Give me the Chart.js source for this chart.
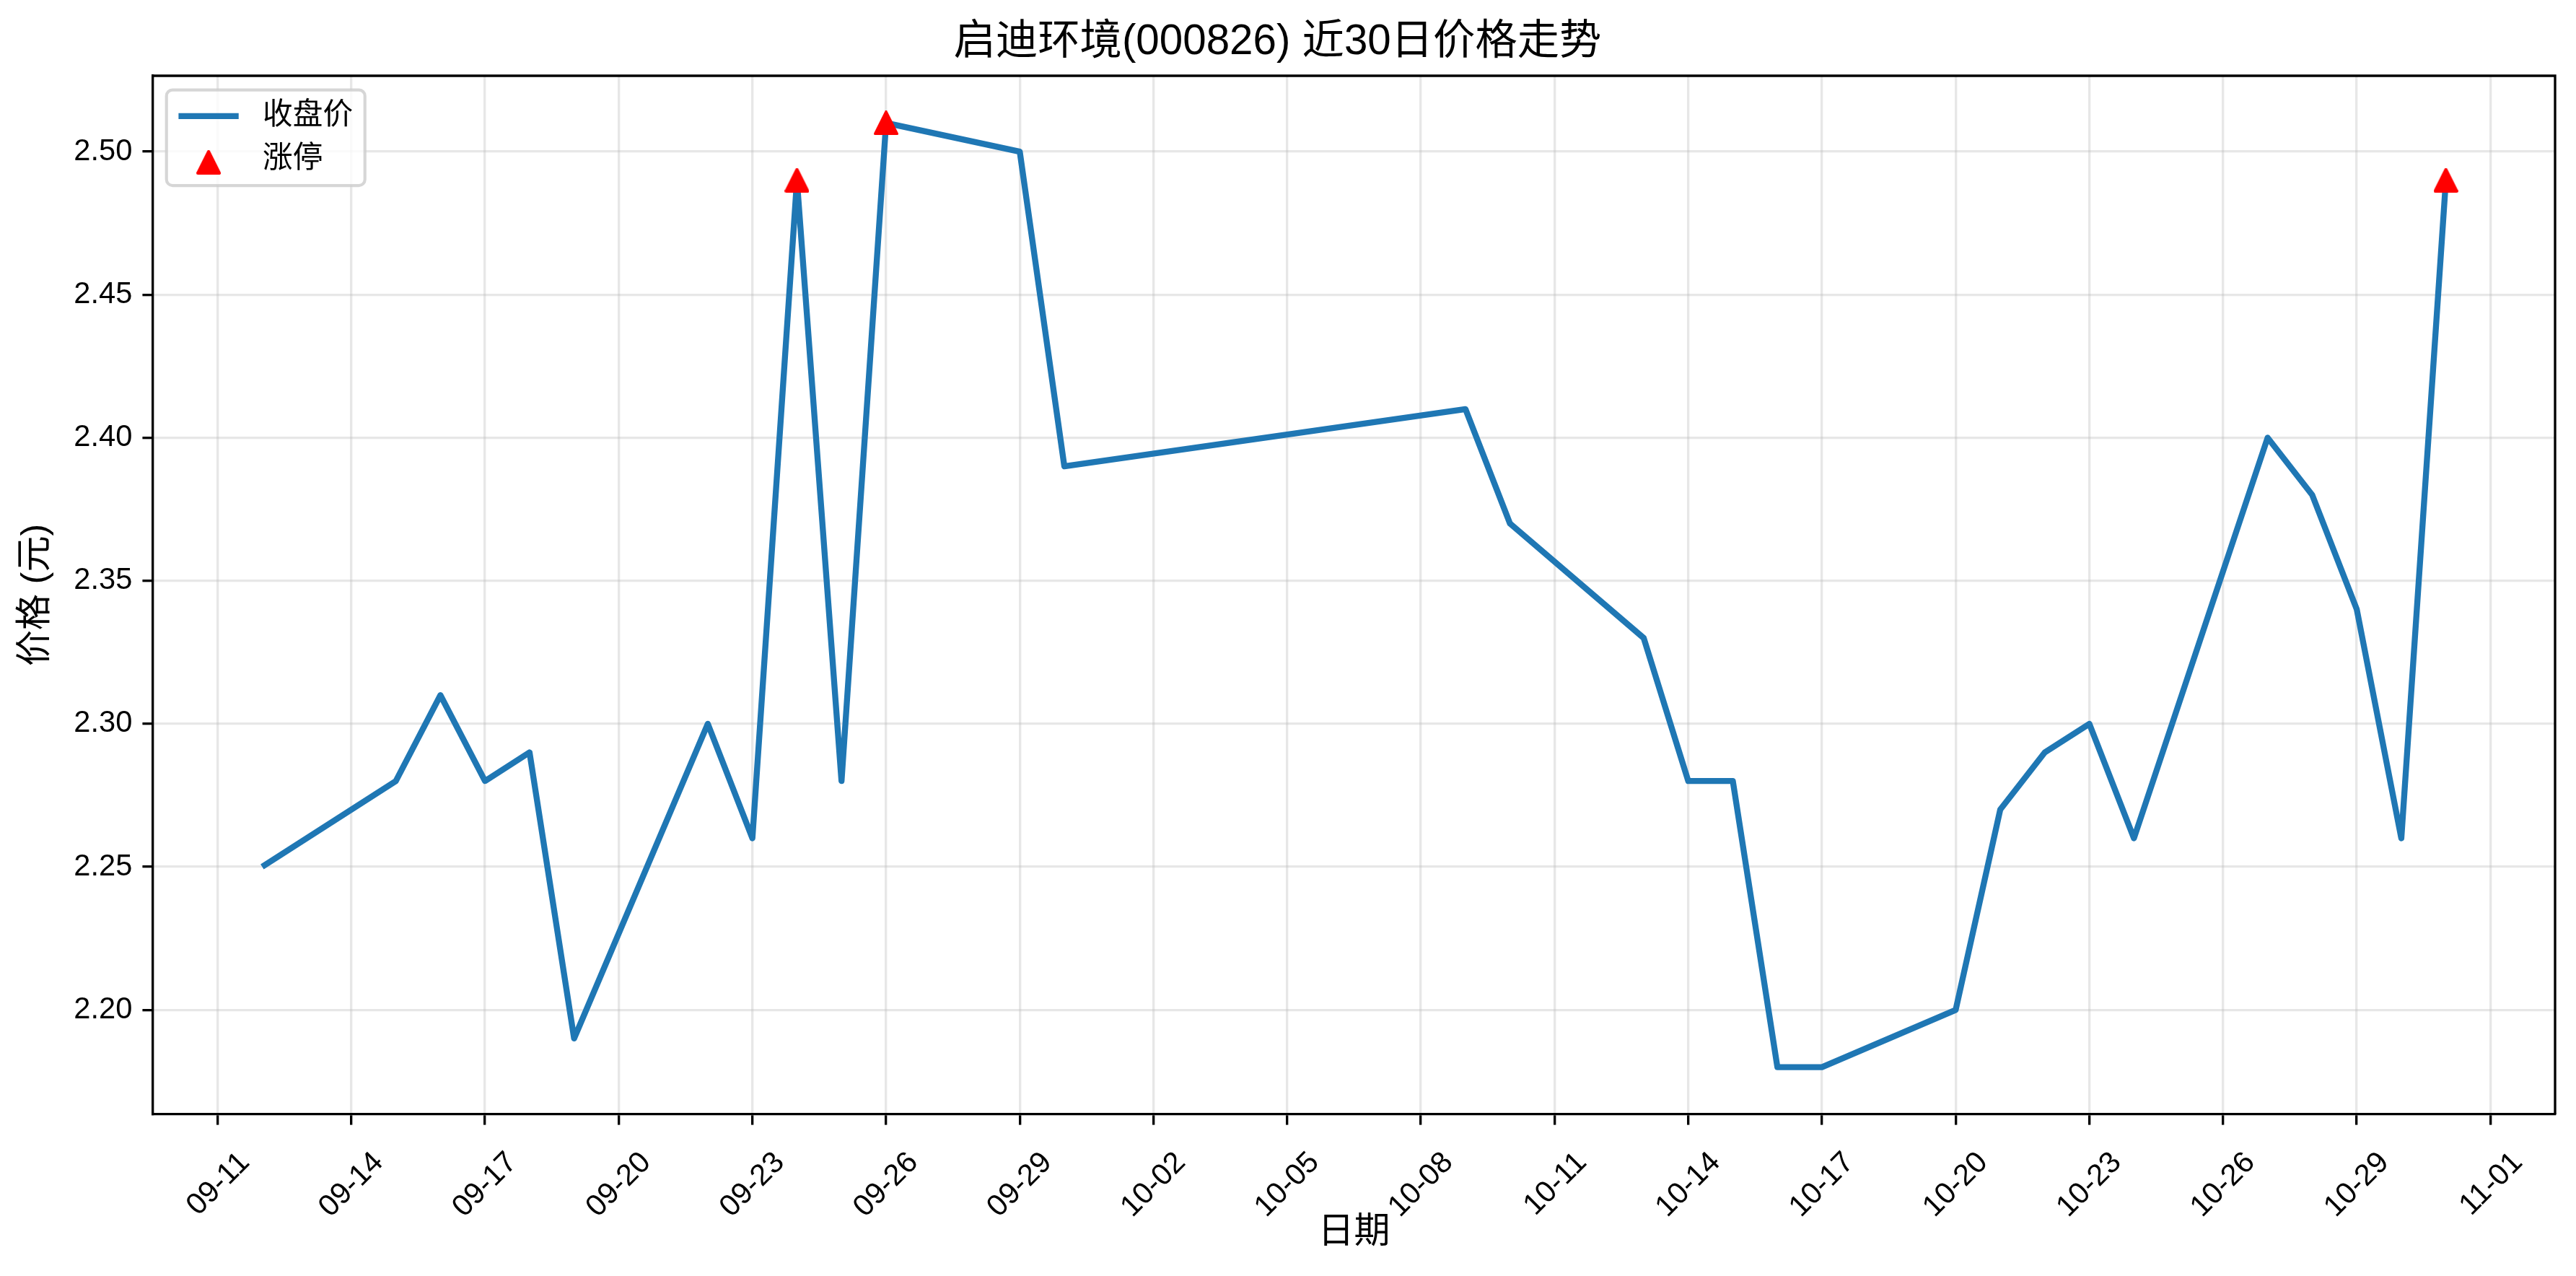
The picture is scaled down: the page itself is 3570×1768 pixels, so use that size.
<!DOCTYPE html>
<html>
<head>
<meta charset="utf-8">
<script src="https://cdn.jsdelivr.net/npm/chart.js@4.4.0/dist/chart.umd.min.js"></script>
<style>
  html, body { margin: 0; padding: 0; background: #fff; }
</style>
</head>
<body>
<canvas id="priceChart" width="3570" height="1768"></canvas>
<script>
// data
const dates = [
  "2025-09-12", "2025-09-15", "2025-09-16", "2025-09-17", "2025-09-18",
  "2025-09-19", "2025-09-22", "2025-09-23", "2025-09-24", "2025-09-25",
  "2025-09-26", "2025-09-29", "2025-09-30", "2025-10-09", "2025-10-10",
  "2025-10-13", "2025-10-14", "2025-10-15", "2025-10-16", "2025-10-17",
  "2025-10-20", "2025-10-21", "2025-10-22", "2025-10-23", "2025-10-24",
  "2025-10-27", "2025-10-28", "2025-10-29", "2025-10-30", "2025-10-31",
];
const closePrices = [
  2.25, 2.28, 2.31, 2.28, 2.29,
  2.19, 2.30, 2.26, 2.49, 2.28,
  2.51, 2.50, 2.39, 2.41, 2.37,
  2.33, 2.28, 2.28, 2.18, 2.18,
  2.20, 2.27, 2.29, 2.30, 2.26,
  2.40, 2.38, 2.34, 2.26, 2.49,
];
const limitUpDates = ["2025-09-24", "2025-09-26", "2025-10-31"];
const limitUpPrices = [2.49, 2.51, 2.49];

const yTickValues = [2.20, 2.25, 2.30, 2.35, 2.40, 2.45, 2.50];
const firstTickDate = "2025-09-11";
const lastTickDate = "2025-11-01";
const tickStepDays = 3;

const titleText = "启迪环境(000826) 近30日价格走势";
const xTitle = "日期";
const yTitle = "价格 (元)";

// helpers
const DAY = 86400000;
const baseMs = Date.parse(firstTickDate);
const toDay = (s) => (Date.parse(s) - baseMs) / DAY;
const dayLabel = (d) => {
  const dt = new Date(baseMs + d * DAY);
  return String(dt.getUTCMonth() + 1).padStart(2, "0") + "-" + String(dt.getUTCDate()).padStart(2, "0");
};

const FONT = "'Liberation Sans', Arial, 'Noto Sans CJK SC', sans-serif";
const PT = 300 / 72; // matplotlib points -> px at 300 dpi
const LINE_BLUE = "#1f77b4";

// matplotlib '^' marker (as wide as it is tall)
function triangleMarker(size, color) {
  const c = document.createElement("canvas");
  c.width = size;
  c.height = size;
  const g = c.getContext("2d");
  const e = 2;
  g.fillStyle = color;
  g.strokeStyle = color;
  g.lineWidth = 2 * e;
  g.lineJoin = "round";
  g.beginPath();
  g.moveTo(size / 2, e);
  g.lineTo(size - e, size - e);
  g.lineTo(e, size - e);
  g.closePath();
  g.fill();
  g.stroke();
  return c;
}
const redTriangle = triangleMarker(34, "#ff0000");

// matplotlib-style 5% margins
const xs = dates.map(toDay);
const xMin = Math.min(...xs), xMax = Math.max(...xs);
const xPad = (xMax - xMin) * 0.05;
const allY = closePrices.concat(limitUpPrices);
const yMin = Math.min(...allY), yMax = Math.max(...allY);
const yPad = (yMax - yMin) * 0.05;

const lineData = dates.map((d, i) => ({ x: toDay(d), y: closePrices[i] }));
const limitData = limitUpDates.map((d, i) => ({ x: toDay(d), y: limitUpPrices[i] }));

Chart.defaults.color = "#000";
Chart.defaults.font.family = FONT;

// top/right spines + legend inside the axes
const frameAndLegend = {
  id: "frameAndLegend",
  afterDatasetsDraw(chart) {
    const { ctx, chartArea: a } = chart;
    ctx.save();
    ctx.strokeStyle = "#000";
    ctx.lineWidth = 0.8 * PT;
    ctx.beginPath();
    ctx.moveTo(a.left, a.top);
    ctx.lineTo(a.right, a.top);
    ctx.lineTo(a.right, a.bottom);
    ctx.stroke();

    // legend
    const fs = 10 * PT;
    ctx.font = fs + "px " + FONT;
    const sets = chart.data.datasets;
    const textW = Math.max(...sets.map((s) => ctx.measureText(s.label).width));
    const rowH = fs * 0.94;
    const x0 = a.left + 0.45 * fs;
    const y0 = a.top + 0.47 * fs;
    const w = 0.4 * fs + 2 * fs + 0.8 * fs + textW + 0.4 * fs;
    const h = 0.8 * fs + sets.length * rowH + (sets.length - 1) * 0.5 * fs;
    ctx.beginPath();
    ctx.roundRect(x0, y0, w, h, 0.2 * fs);
    ctx.fillStyle = "rgba(255,255,255,0.8)";
    ctx.fill();
    ctx.strokeStyle = "rgba(204,204,204,0.8)";
    ctx.lineWidth = 1.0 * PT;
    ctx.stroke();

    sets.forEach((s, i) => {
      const cy = y0 + 0.4 * fs + rowH / 2 + i * (rowH + 0.5 * fs);
      const hx = x0 + 0.4 * fs;
      if (s.pointRadius === 0) {
        ctx.strokeStyle = s.borderColor;
        ctx.lineWidth = s.borderWidth;
        ctx.beginPath();
        ctx.moveTo(hx, cy);
        ctx.lineTo(hx + 2 * fs, cy);
        ctx.stroke();
      } else {
        Chart.helpers.drawPoint(ctx, {
          pointStyle: s.pointStyle, radius: s.pointRadius, rotation: 0, borderWidth: 0,
        }, hx + fs, cy + 4);
      }
      ctx.fillStyle = "#000";
      ctx.textAlign = "left";
      ctx.textBaseline = "middle";
      ctx.fillText(s.label, hx + 2.8 * fs, cy);
    });
    ctx.restore();
  },
};

const config = {
  type: "line",
  data: {
    datasets: [
      {
        label: "收盘价",
        data: lineData,
        borderColor: LINE_BLUE,
        backgroundColor: LINE_BLUE,
        borderWidth: 2 * PT,
        borderJoinStyle: "round",
        pointRadius: 0,
        tension: 0,
        order: 2,
      },
      {
        label: "涨停",
        data: limitData,
        showLine: false,
        pointStyle: redTriangle,
        pointRadius: 17,
        pointHoverRadius: 17,
        backgroundColor: "#ff0000",
        borderColor: "#ff0000",
        pointBorderWidth: 0,
        order: 1,
      },
    ],
  },
  options: {
    responsive: false,
    animation: false,
    layout: { padding: { top: 0, right: 29, bottom: 0, left: 0 } },
    plugins: {
      legend: { display: false },
      tooltip: { enabled: false },
      title: {
        display: true,
        text: titleText,
        color: "#000",
        font: { size: 14 * PT, weight: "normal", family: FONT, lineHeight: 1.2 },
        padding: { top: 24, bottom: 11 },
      },
    },
    scales: {
      x: {
        type: "linear",
        position: "bottom",
        min: xMin - xPad,
        max: xMax + xPad,
        afterBuildTicks: (scale) => {
          const ticks = [];
          for (let d = 0; d <= toDay(lastTickDate); d += tickStepDays) ticks.push({ value: d });
          scale.ticks = ticks;
        },
        afterFit: (scale) => { scale.height = 224; },
        grid: {
          color: "rgba(176,176,176,0.3)",
          lineWidth: 0.8 * PT,
          tickColor: "#000",
          tickWidth: 0.8 * PT,
          tickLength: 3.5 * PT,
        },
        border: { color: "#000", width: 0.8 * PT },
        ticks: {
          autoSkip: false,
          minRotation: 45,
          maxRotation: 45,
          padding: 28,
          labelOffset: 38,
          font: { size: 10 * PT },
          callback: (v) => dayLabel(v),
        },
        title: {
          display: true,
          text: xTitle,
          font: { size: 12 * PT, lineHeight: 1.2 },
          padding: { top: 0, bottom: 30 },
        },
      },
      y: {
        type: "linear",
        min: yMin - yPad,
        max: yMax + yPad,
        afterBuildTicks: (scale) => {
          scale.ticks = yTickValues.map((v) => ({ value: v }));
        },
        afterFit: (scale) => { scale.width = 212; },
        grid: {
          color: "rgba(176,176,176,0.3)",
          lineWidth: 0.8 * PT,
          tickColor: "#000",
          tickWidth: 0.8 * PT,
          tickLength: 3.5 * PT,
        },
        border: { color: "#000", width: 0.8 * PT },
        ticks: {
          padding: 14,
          font: { size: 10 * PT },
          callback: (v) => v.toFixed(2),
        },
        title: {
          display: true,
          text: yTitle,
          font: { size: 12 * PT, lineHeight: 1.2 },
          padding: { top: 20, bottom: 0 },
        },
      },
    },
  },
  plugins: [frameAndLegend],
};

const priceChart = new Chart(document.getElementById("priceChart"), config);
</script>
</body>
</html>
